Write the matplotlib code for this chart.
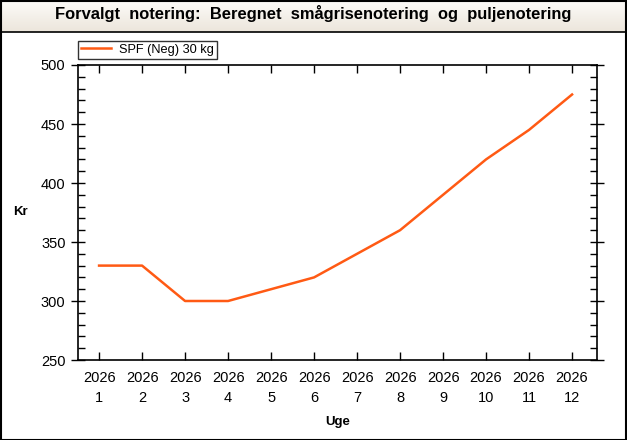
import numpy as np
import matplotlib
matplotlib.use("Agg")
import matplotlib.pyplot as plt
from matplotlib.ticker import MultipleLocator
from matplotlib.patches import Rectangle

plt.rcParams['font.family'] = ['Liberation Sans', 'DejaVu Sans']

# data
weeks = [1, 2, 3, 4, 5, 6, 7, 8, 9, 10, 11, 12]
years = [2026] * 12
spf_neg_30kg = [330, 330, 300, 300, 310, 320, 340, 360, 390, 420, 445, 475]
series_label = "SPF (Neg) 30 kg"
title = "Forvalgt  notering:  Beregnet  smågrisenotering  og  puljenotering"

W, H = 627, 440
fig = plt.figure(figsize=(W / 100, H / 100), dpi=100)

# title bar with soft gradient
tb = fig.add_axes([0, 1 - 32 / H, 1, 32 / H])
grad = np.linspace(0, 1, 64).reshape(-1, 1)
top_c = np.array([0.99, 0.985, 0.975])
bot_c = np.array([0.925, 0.90, 0.86])
img = top_c + grad[..., None] * (bot_c - top_c)
tb.imshow(img, aspect='auto', extent=[0, 1, 0, 1])
tb.set_xlim(0, 1)
tb.set_ylim(0, 1)
tb.axis('off')
tb.text(313 / W, 0.59, title, ha='center', va='center', fontsize=11.9,
        fontweight='bold', color='black')
fig.add_artist(plt.Line2D([0, 1], [1 - 32 / H, 1 - 32 / H], color='black',
                          lw=1.2, transform=fig.transFigure))

# outer border
fig.add_artist(Rectangle((0.5 / W, 0.5 / H), 1 - 1.5 / W, 1 - 1.5 / H,
                         transform=fig.transFigure, fill=False,
                         edgecolor='black', lw=1.5))

ax = fig.add_axes([78 / W, (H - 360) / H, (597 - 78) / W, (360 - 65) / H])
ax.plot(weeks, spf_neg_30kg, color='#FF5A14', lw=1.8, label=series_label)

ax.set_xlim(0.51, 12.58)
ax.set_ylim(250, 500)
ax.set_xticks(weeks)
ax.set_xticklabels([f"{y}\n{w}" for y, w in zip(years, weeks)], fontsize=10.5,
                   linespacing=1.5)
ax.yaxis.set_major_locator(MultipleLocator(50))
ax.yaxis.set_minor_locator(MultipleLocator(10))
ax.tick_params(axis='y', which='major', direction='inout', length=10,
               width=1, labelsize=10.5, right=True, pad=4)
ax.tick_params(axis='y', which='minor', direction='in', length=5, width=1,
               right=True)
ax.tick_params(axis='x', which='major', direction='in', length=6, width=1,
               top=True, pad=8)
for s in ax.spines.values():
    s.set_linewidth(1.2)

fig.text(20 / W, 1 - 212 / H, "Kr", fontsize=9.5, fontweight='bold',
         ha='center', va='center')
ax.set_xlabel("Uge", fontsize=9.5, fontweight='bold', labelpad=8)

leg = ax.legend(loc='lower left', bbox_to_anchor=(78 / W, (H - 59) / H),
                bbox_transform=fig.transFigure, fontsize=9.2, frameon=True,
                fancybox=False, borderpad=0.25, handlelength=2.35,
                handletextpad=0.6, borderaxespad=0)
leg.get_frame().set_edgecolor('black')
leg.get_frame().set_linewidth(1)

fig.savefig("out.png", dpi=100)
